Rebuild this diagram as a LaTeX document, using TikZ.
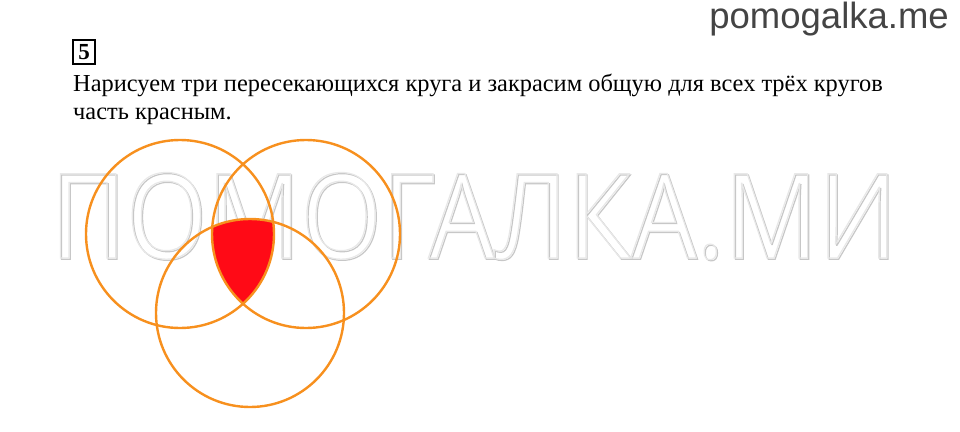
\documentclass[tikz,border=0pt]{standalone}
\usepackage{fontspec}
\setmainfont{Liberation Serif}
\newfontfamily\sitefont{Liberation Sans}
\newfontfamily\markfont[FakeStretch=0.88]{Open Sans}
\definecolor{ringorange}{HTML}{F7901E}
\definecolor{fillred}{HTML}{FF0A16}
\definecolor{sitegray}{HTML}{444444}
\newcommand{\outlinetext}[2]{\special{pdf:literal direct 1 Tr 1.2 w #1 G}#2\special{pdf:literal direct 0 Tr}}
\begin{document}
\begin{tikzpicture}[x=1pt, y=-1pt,
    ring/.style={draw=ringorange, line width=2.4pt, circle, minimum size=188pt, inner sep=0pt},
    markstyle/.style={anchor=base west, font=\markfont\fontsize{118}{118}\selectfont},
    every node/.style={inner sep=0pt}]
    \useasboundingbox (0,0) rectangle (960,431);
    % site name and task number
    \node[anchor=base east, font=\sitefont\fontsize{36.5}{36.5}\selectfont, text=sitegray] (site) at (949,28) {pomogalka.me};
    \node[draw, line width=1.6pt, minimum width=22pt, minimum height=24pt, font=\bfseries\fontsize{23}{23}\selectfont] (num) at (84,52) {5};
    % task text
    \node[anchor=base west, align=left, font=\fontsize{24.4}{28}\selectfont] (task) at (73,119)
        {Нарисуем три пересекающихся круга и закрасим общую для всех трёх кругов\\часть красным.};
    % watermark, a darker copy under a lighter one
    \node[markstyle] (markshadow) at (51.2,259.2) {\outlinetext{0.78}{ПОМОГАЛКА.МИ}};
    \node[markstyle] (mark) at (50,258) {\outlinetext{0.91}{ПОМОГАЛКА.МИ}};
    % common part of the three circles
    \begin{scope}
        \clip (180,234) circle[radius=94pt];
        \clip (306,234) circle[radius=94pt];
        \fill[fillred] (250,313) circle[radius=94pt];
    \end{scope}
    % the three circles
    \node[ring] (left) at (180,234) {};
    \node[ring] (right) at (306,234) {};
    \node[ring] (bottom) at (250,313) {};
\end{tikzpicture}
\end{document}
